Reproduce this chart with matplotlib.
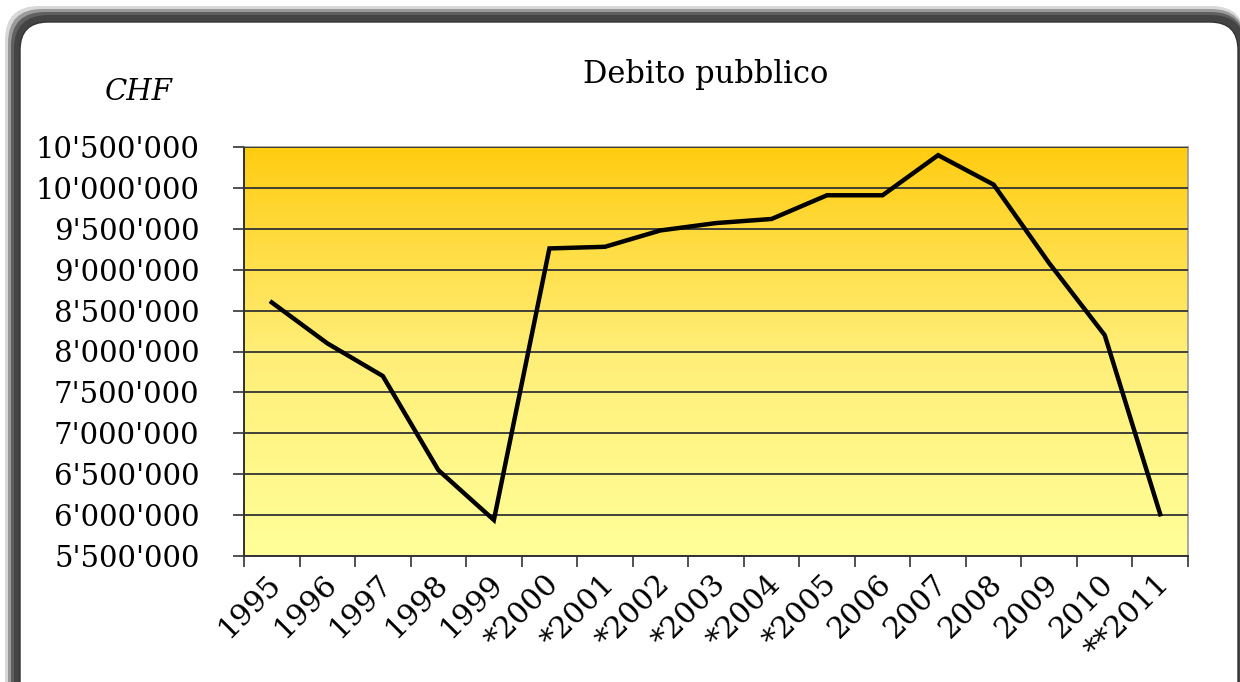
import numpy as np
import matplotlib
matplotlib.use("Agg")
from matplotlib import pyplot as plt
from matplotlib.patches import FancyBboxPatch
from matplotlib.colors import LinearSegmentedColormap
from matplotlib.transforms import ScaledTranslation

# data
years = ["1995", "1996", "1997", "1998", "1999", "*2000", "*2001", "*2002",
         "*2003", "*2004", "*2005", "2006", "2007", "2008", "2009", "2010", "**2011"]
debt = [8600000, 8100000, 7700000, 6550000, 5940000, 9260000, 9280000, 9480000,
        9570000, 9620000, 9910000, 9910000, 10400000, 10040000, 9080000, 8200000, 6010000]
y_ticks = [5500000, 6000000, 6500000, 7000000, 7500000, 8000000, 8500000,
           9000000, 9500000, 10000000, 10500000]

plt.rcParams['font.family'] = ['DejaVu Serif']

fig = plt.figure(figsize=(12.4, 6.82), dpi=100)
fig.patch.set_facecolor("white")

# rounded panel with a soft dark shadow (units: inches, 1 in = 100 px)
shadow = [(0.05, 6.76, "#d8d8d8"), (0.08, 6.73, "#9a9a9a"),
          (0.11, 6.70, "#606060"), (0.14, 6.67, "#444444")]
for x0, top, col in shadow:
    sh = FancyBboxPatch((x0, -0.5), 12.45 - x0, top + 0.5,
                        boxstyle="round,pad=0,rounding_size=0.34",
                        transform=fig.dpi_scale_trans, facecolor=col,
                        edgecolor="none", zorder=0)
    fig.patches.append(sh)
panel = FancyBboxPatch((0.20, -0.5), 12.18, 7.10,
                       boxstyle="round,pad=0,rounding_size=0.28",
                       transform=fig.dpi_scale_trans, facecolor="white",
                       edgecolor="#333333", linewidth=1.0, zorder=1)
fig.patches.append(panel)

ax = fig.add_axes([244 / 1240, 1 - 556 / 682, (1188 - 244) / 1240, (556 - 147) / 682])
ax.set_zorder(2)

# gradient background
cmap = LinearSegmentedColormap.from_list("bg", ["#FFFF99", "#FFEE77", "#FFCC11"])
grad = np.linspace(0, 1, 256).reshape(-1, 1)
ax.imshow(grad, cmap=cmap, aspect="auto", extent=[0, 1, 0, 1], origin="lower",
          transform=ax.transAxes, zorder=0)

x = np.arange(len(years))
ax.plot(x, debt, color="black", linewidth=3.2, solid_joinstyle="miter", zorder=3)

ax.set_xlim(-0.5, len(years) - 0.5)
ax.set_ylim(y_ticks[0], y_ticks[-1])

ax.set_yticks(y_ticks)
ax.set_yticklabels([f"{v:,}".replace(",", "'") for v in y_ticks], fontsize=21)
ax.yaxis.grid(True, color="#333333", linewidth=1.3, zorder=1)
ax.set_axisbelow(False)

ax.set_xticks(np.arange(len(years) + 1) - 0.5)
ax.set_xticklabels([])
ax.set_xticks(x, minor=True)
ax.set_xticklabels(years, minor=True, rotation=45, ha="right",
                   rotation_mode="anchor", fontsize=21.5)
ax.tick_params(axis="x", which="minor", length=0, pad=10)
ax.tick_params(axis="both", which="major", direction="out", length=8,
               width=1.2, color="#333333")
ax.tick_params(axis="y", which="major", pad=24)
shift = ScaledTranslation(-5 / 100, 0, fig.dpi_scale_trans)
for lbl in ax.get_xticklabels(minor=True):
    lbl.set_transform(lbl.get_transform() + shift)

for s in ["top", "right"]:
    ax.spines[s].set_color("#999999")
    ax.spines[s].set_linewidth(1.2)
for s in ["left", "bottom"]:
    ax.spines[s].set_color("#222222")
    ax.spines[s].set_linewidth(1.3)

fig.text(706 / 1240, 1 - 75 / 682, "Debito pubblico", ha="center", va="center",
         fontsize=22, zorder=3)
fig.text(139 / 1240, 1 - 92 / 682, "CHF", ha="center", va="center",
         fontsize=21, style="italic", zorder=3)

fig.savefig("out.png", dpi=100)
